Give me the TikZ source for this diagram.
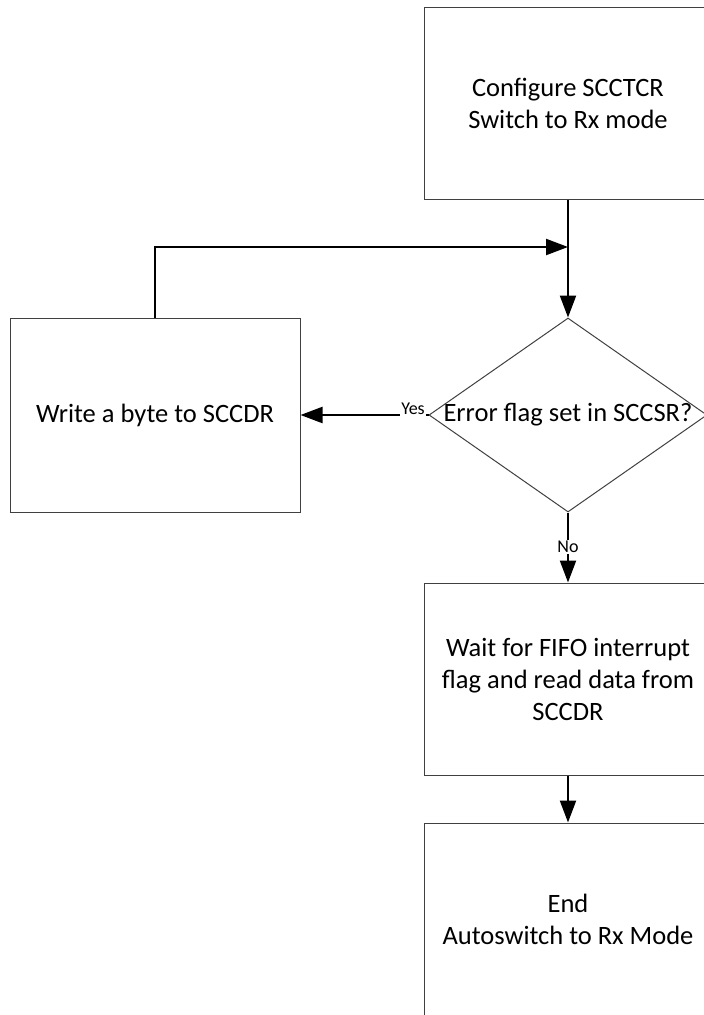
\documentclass[tikz,border=0pt]{standalone}
\usepackage{fontspec}
\setmainfont{Carlito}
\usepackage{tikz}
\usetikzlibrary{arrows.meta,shapes.geometric,positioning}

\tikzset{
    stepbox/.style={draw=black!75,line width=1pt,rectangle,
        minimum width=288pt,minimum height=192pt,align=center,
        font=\fontsize{26.5}{32}\selectfont},
    decision/.style={draw=black!75,line width=1pt,diamond,inner sep=0pt,
        minimum width=278pt,minimum height=194pt,
        font=\fontsize{26.5}{32}\selectfont},
    flow/.style={line width=2.2pt,-{Triangle[length=22pt,width=16pt]}},
    tag/.style={fill=white,inner sep=1pt,font=\fontsize{18}{20}\selectfont}
}

\begin{document}
\begin{tikzpicture}[x=1pt,y=-1pt]
    \useasboundingbox (0,0) rectangle (704,1015);
    \clip (0,0) rectangle (704,1015);
    \node[stepbox] (cfg) at (568,103) {Configure SCCTCR\\Switch to Rx mode};
    \node[decision] (err) at (568,415) {\makebox[0pt]{Error flag set in SCCSR?}};
    \node[stepbox,minimum width=290pt,minimum height=194pt] (wr) at (155,415)
        {Write a byte to SCCDR};
    \node[stepbox] (wait) at (568,679)
        {Wait for FIFO interrupt\\flag and read data from\\SCCDR};
    \node[stepbox] (endb) at (568,919) {End\\Autoswitch to Rx Mode};
    \coordinate (join) at (568,247);
    % connectors
    \draw[flow] (cfg.south) -- (err.north);
    \draw[flow] (wr.north) |- (join);
    \draw[flow] (err.west) -- (wr.east);
    \draw[flow] (err.south) -- (wait.north);
    \draw[flow] (wait.south) -- (endb.north);
    % branch labels
    \node[tag] (yes) at (413,409) {Yes};
    \node[tag] (no) at (568,547) {No};
\end{tikzpicture}
\end{document}
